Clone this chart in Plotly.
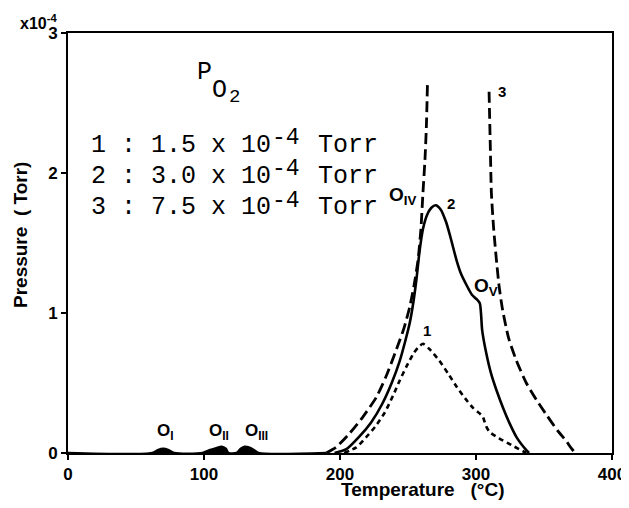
import plotly.graph_objects as go

# ---------------- data ----------------
curve1_T = [203, 212, 219, 226, 233, 239, 244, 249, 254, 258, 261, 266, 273, 280, 286, 292, 298, 303, 305, 307.5, 310, 317, 326, 337]
curve1_P = [0.0, 0.04, 0.11, 0.19, 0.29, 0.41, 0.52, 0.62, 0.71, 0.76, 0.78, 0.74, 0.66, 0.56, 0.47, 0.39, 0.32, 0.28, 0.26, 0.19, 0.15, 0.105, 0.057, 0.0]

curve2_T = [196, 205, 214.5, 223, 231, 238, 244, 248, 251.3, 254, 256.2, 258.6, 261, 264, 267, 270.4, 274, 278, 281, 285.6, 289, 293, 297, 300.3, 302.8, 303.8, 304.5, 307.6, 311, 315, 320, 324.8, 330, 337, 339]
curve2_P = [0.0, 0.03, 0.12, 0.22, 0.35, 0.50, 0.66, 0.80, 0.93, 1.08, 1.24, 1.45, 1.60, 1.70, 1.75, 1.77, 1.74, 1.65, 1.55, 1.38, 1.28, 1.20, 1.13, 1.10, 1.07, 0.98, 0.88, 0.71, 0.57, 0.45, 0.32, 0.21, 0.11, 0.02, 0.0]

curve3_T = [190, 197, 207, 217, 226.8, 234, 241.5, 247, 251.3, 254.5, 257.4, 259.5, 261, 262.5, 263.5, 264.3,
            None,
            309.6, 310.5, 311.3, 313, 315, 317, 319.6, 324, 329.7, 337, 344.4, 352, 360, 366, 370, 373]
curve3_P = [0.0, 0.04, 0.14, 0.26, 0.40, 0.55, 0.74, 0.89, 1.045, 1.20, 1.38, 1.60, 1.86, 2.10, 2.33, 2.63,
            None,
            2.58, 2.20, 1.86, 1.60, 1.38, 1.19, 1.02, 0.82, 0.66, 0.50, 0.38, 0.27, 0.16, 0.09, 0.035, 0.0]

low_T = [0, 62, 66, 70, 74, 78, 99, 104, 109, 113, 116, 118, 124, 127, 130, 133, 137, 140, 190]
low_P = [0, 0, 0.02, 0.03, 0.02, 0, 0, 0.02, 0.035, 0.045, 0.03, 0, 0, 0.03, 0.045, 0.04, 0.02, 0, 0]

x_ticks = [0, 100, 200, 300, 400]
y_ticks = [0, 1, 2, 3]
legend_ids = ["1", "2", "3"]
legend_vals = ["1.5", "3.0", "7.5"]
peak_labels = ["O<sub>I</sub>", "O<sub>II</sub>", "O<sub>III</sub>", "O<sub>IV</sub>", "O<sub>V</sub>"]

# ---------------- figure ----------------
# page body has an 8px margin on every side; the figure fills the rest of the 629x508 page
OFF = 8
PAGE_W, PAGE_H = 629, 508
W, H = PAGE_W - 2 * OFF, PAGE_H - 2 * OFF
# plot-area edges in page pixels
L, R, T, B = 68, 612, 33, 453

def fx(px):
    return (px - L) / (R - L)

def fy(py):
    return (B - py) / (B - T)

fig = go.Figure()
fig.add_trace(go.Scatter(x=low_T, y=low_P, mode="lines", fill="tozeroy", fillcolor="black",
                         line=dict(color="black", width=2.5, shape="spline", smoothing=0.8),
                         showlegend=False, hoverinfo="skip"))
fig.add_trace(go.Scatter(x=curve1_T, y=curve1_P, mode="lines",
                         line=dict(color="black", width=2.6, dash="5px,4px", shape="spline", smoothing=0.6),
                         showlegend=False))
fig.add_trace(go.Scatter(x=curve2_T, y=curve2_P, mode="lines",
                         line=dict(color="black", width=2.6, shape="spline", smoothing=0.6),
                         showlegend=False))
fig.add_trace(go.Scatter(x=curve3_T, y=curve3_P, mode="lines", connectgaps=False,
                         line=dict(color="black", width=2.8, dash="11px,5px", shape="spline", smoothing=0.6),
                         showlegend=False))

tick_font = dict(family="Liberation Sans, Arial, sans-serif", size=17, color="black", weight="bold")
axis_common = dict(showgrid=False, zeroline=False, showline=True, linecolor="black", linewidth=2,
                   mirror=True, ticks="outside", ticklen=5, tickwidth=2, tickcolor="black",
                   tickfont=tick_font, ticklabeloverflow="allow", automargin=False)

fig.update_layout(
    width=W, height=H,
    margin=dict(l=L - OFF, r=W - (R - OFF), t=T - OFF, b=H - (B - OFF), pad=0, autoexpand=False),
    paper_bgcolor="white", plot_bgcolor="white",
    xaxis=dict(range=[0, 400], tickvals=x_ticks, ticktext=[str(v) for v in x_ticks], **axis_common),
    yaxis=dict(range=[0, 3], tickvals=y_ticks, ticktext=[str(v) for v in y_ticks], **axis_common),
)

ann = []
def add(text, px, py, size, family, xanchor="center", weight="normal", angle=0):
    ann.append(dict(text=text, x=fx(px), y=fy(py), xref="paper", yref="paper", showarrow=False,
                    xanchor=xanchor, yanchor="middle", textangle=angle,
                    font=dict(family=family, size=size, color="black", weight=weight)))

mono = "Liberation Mono, Courier New, monospace"
sans = "Liberation Sans, Arial, sans-serif"

# P_O2 header
add("P", 204, 72, 25, mono)
add("O", 219, 91, 25, mono)
add("2", 234, 97, 19, mono)

# legend lines
line_y = [145, 176.5, 208]
for i in range(3):
    add(legend_ids[i] + " : " + legend_vals[i] + " x 10", 89, line_y[i], 25, mono, xanchor="left")
    add("-4", 270, line_y[i] - 7, 23, mono, xanchor="left")
    add("Torr", 316, line_y[i], 25, mono, xanchor="left")

# peak labels
add(peak_labels[0], 155, 432, 17, sans, xanchor="left", weight="bold")
add(peak_labels[1], 207, 432, 17, sans, xanchor="left", weight="bold")
add(peak_labels[2], 243, 432, 17, sans, xanchor="left", weight="bold")
add(peak_labels[3], 387, 196, 19, sans, xanchor="left", weight="bold")
add(peak_labels[4], 472, 287, 19, sans, xanchor="left", weight="bold")

# curve labels
add(legend_ids[0], 427, 331, 15, sans, weight="bold")
add(legend_ids[1], 451, 203, 15, sans, weight="bold")
add(legend_ids[2], 502, 92, 15, sans, weight="bold")

# exponent
add("x10<sup>-4</sup>", 38, 22, 16, sans, weight="bold")

# axis titles
add("Temperature\u00a0\u00a0\u00a0(°C)", 423, 490, 19, sans, weight="bold")
add("Pressure\u00a0\u00a0( Torr)", 21, 235, 19, sans, weight="bold", angle=-90)

fig.update_layout(annotations=ann)
fig.write_html("out.html")
